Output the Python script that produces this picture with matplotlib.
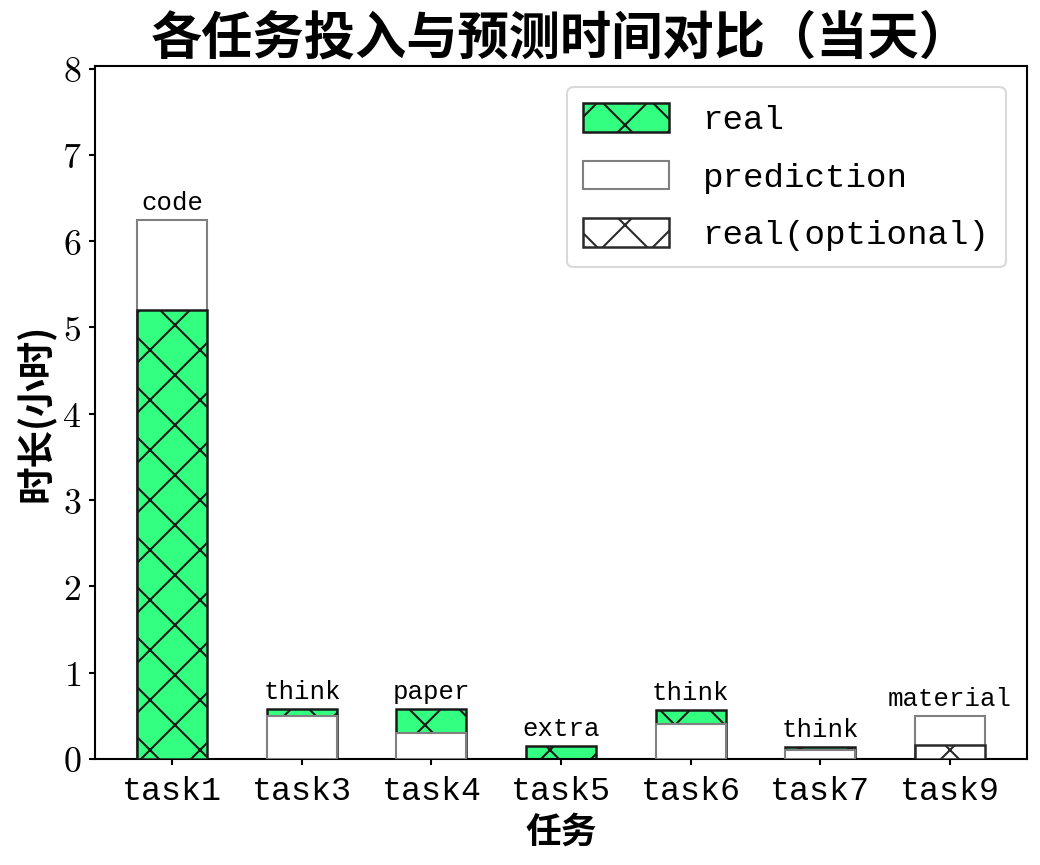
import matplotlib
matplotlib.use("Agg")
import matplotlib.pyplot as plt
from matplotlib.patches import Patch
import numpy as np

# ---- data ----
tasks = ["task1", "task3", "task4", "task5", "task6", "task7", "task9"]
real = [5.20, 0.58, 0.58, 0.15, 0.57, 0.14, 0.0]
prediction = [6.24, 0.50, 0.30, 0.0, 0.40, 0.10, 0.50]
real_optional = [0.0, 0.0, 0.0, 0.0, 0.0, 0.0, 0.16]
notes = ["code", "think", "paper", "extra", "think", "think", "material"]
y_ticks = [0, 1, 2, 3, 4, 5, 6, 7, 8]
title = "各任务投入与预测时间对比（当天）"
xlabel = "任务"
ylabel = "时长(小时)"
legend_labels = ["real", "prediction", "real(optional)"]

plt.rcParams["mathtext.fontset"] = "cm"
plt.rcParams["hatch.linewidth"] = 0.5
plt.rcParams["axes.linewidth"] = 0.5

DPI = 300
fig = plt.figure(figsize=(1040 / DPI, 865 / DPI), dpi=DPI)
ax = fig.add_axes([95 / 1040, 1 - 759 / 865, (1027 - 95) / 1040, (759 - 66) / 865])

cjk = ["Noto Sans CJK SC", "DejaVu Sans"]
mono = ["Liberation Mono", "DejaVu Sans Mono"]

x = np.arange(len(tasks))
w = 0.54
green = "#33FF80"
HATCH = "xx"

style_real = dict(facecolor=green, edgecolor="#1a1a1a", hatch=HATCH, linewidth=0.6)
style_pred = dict(facecolor="white", edgecolor="#808080", linewidth=0.5)
style_opt = dict(facecolor="white", edgecolor="#2a2a2a", hatch=HATCH, linewidth=0.6)

b_real = ax.bar(x, real, w, **style_real)
b_pred = ax.bar(x, prediction, w, **style_pred)
b_opt = ax.bar(x, real_optional, w, **style_opt)

# draw larger bar behind, smaller in front; hide empty bars
for i in range(len(tasks)):
    pats = [(real[i], b_real.patches[i]), (prediction[i], b_pred.patches[i]),
            (real_optional[i], b_opt.patches[i])]
    pats.sort(key=lambda t: -t[0])
    for z, (v, p) in enumerate(pats):
        p.set_zorder(2 + z)
        if v == 0:
            p.set_visible(False)

for i in range(len(tasks)):
    top = max(real[i], prediction[i], real_optional[i])
    ax.text(x[i], top + 0.06, notes[i], ha="center", va="bottom",
            family=mono, fontsize=6.2, zorder=10)

ax.set_ylim(0, 8.03)
ax.set_yticks(y_ticks)
ax.set_yticklabels([f"${v}$" for v in y_ticks], fontsize=8.6)
ax.set_xticks(x)
ax.set_xticklabels(tasks, family=mono, fontsize=8.0)
ax.tick_params(length=1.5, width=0.5)
ax.tick_params(axis="x", pad=2.6)
ax.tick_params(axis="y", pad=1.8)

ax.set_title(title, family=cjk, fontweight="bold", fontsize=12.3, pad=3)
ax.set_xlabel(xlabel, family=cjk, fontweight="bold", fontsize=8.6, labelpad=1.5)
ax.set_ylabel(ylabel, family=cjk, fontweight="bold", fontsize=9.0, labelpad=1.5)

handles = [Patch(**style_real), Patch(**style_pred), Patch(**style_opt)]
leg = ax.legend(handles=handles, labels=legend_labels, loc="upper right",
                prop={"family": mono, "size": 8.2}, handlelength=2.5,
                handleheight=0.9, handletextpad=1.0, labelspacing=0.72,
                borderaxespad=0.62, borderpad=0.47, framealpha=0.8)
leg.get_frame().set_linewidth(0.5)
leg.get_frame().set_edgecolor("#d0d0d0")

fig.savefig("out.png", dpi=DPI)
